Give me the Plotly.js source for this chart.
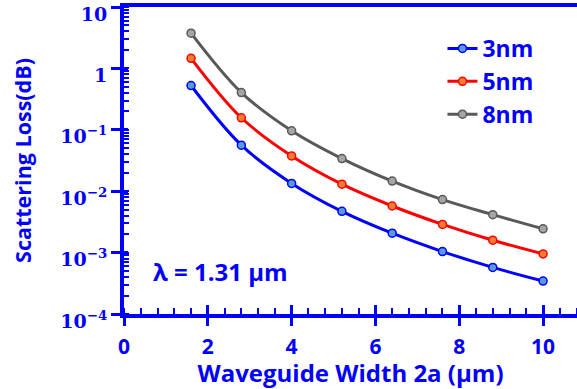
<!DOCTYPE html>
<html>
<head>
<meta charset="utf-8">
<script src="https://cdn.plot.ly/plotly-3.0.1.min.js"></script>
<style>
html,body{margin:0;padding:0;background:#fff;overflow:hidden;}
#chart{width:577px;height:389px;}
</style>
</head>
<body>
<div id="chart"></div>
<script>
// Data
const widths = [1.6, 2.8, 4.0, 5.2, 6.4, 7.6, 8.8, 10.0];
const loss3nm = [0.526, 0.0561, 0.0134, 0.0047, 0.00207, 0.00104, 0.000574, 0.000344];
const loss5nm = [1.46, 0.157, 0.0375, 0.0130, 0.00574, 0.00288, 0.00159, 0.000953];
const loss8nm = [3.75, 0.404, 0.0964, 0.034, 0.0146, 0.0073, 0.00415, 0.00244];
const seriesNames = ['3nm', '5nm', '8nm'];
const yTickVals = [10, 1, 0.1, 0.01, 0.001, 0.0001];
const yTickText = ['10', '1', '10<sup>−1</sup>', '10<sup>−2</sup>', '10<sup>−3</sup>', '10<sup>−4</sup>'];
const xTickVals = [0, 2, 4, 6, 8, 10];
const xTickText = ['0', '2', '4', '6', '8', '10'];

const BLUE = '#0000ff';
const sans = 'Open Sans, Lato, sans-serif';

function mk(name, y, line, fill) {
  return {
    x: widths, y: y, name: name, type: 'scatter', mode: 'lines+markers',
    line: {color: line, width: 3, shape: 'spline', smoothing: 1},
    marker: {size: 8, color: fill, line: {color: line, width: 1.5}}
  };
}

const traces = [
  mk(seriesNames[0], loss3nm, '#0000ff', '#5b9bd5'),
  mk(seriesNames[1], loss5nm, '#ff0000', '#ed7d31'),
  mk(seriesNames[2], loss8nm, '#595959', '#a5a5a5'),
  {x: [], y: [], xaxis: 'x2', yaxis: 'y2', showlegend: false, hoverinfo: 'skip', type: 'scatter'}
];

const xr = [0, 10.81];
const yr = [-4, 1];

const layout = {
  width: 577, height: 389,
  margin: {l: 124, r: 0, t: 7, b: 75},
  paper_bgcolor: '#fff', plot_bgcolor: '#fff',
  showlegend: true,
  legend: {
    x: 0.703, y: 0.935, xanchor: 'left', yanchor: 'top',
    bgcolor: 'rgba(0,0,0,0)',
    font: {family: sans, size: 23, color: BLUE, weight: 'bold'},
    tracegroupgap: 0, itemwidth: 30
  },
  xaxis: {
    range: xr, showgrid: false, zeroline: false,
    showline: true, linecolor: BLUE, linewidth: 4, mirror: true,
    tickvals: xTickVals, ticktext: xTickText,
    ticks: 'outside', ticklen: 8, tickwidth: 3, tickcolor: BLUE,
    ticklabelstandoff: 3,
    minor: {dtick: 0.4, ticks: 'inside', ticklen: 6, tickwidth: 2, tickcolor: BLUE, showgrid: false},
    tickfont: {family: sans, size: 21, color: BLUE, weight: 'bold'},
    title: {text: 'Waveguide Width 2a (µm)', standoff: 3,
      font: {family: sans, size: 24, color: BLUE, weight: 'bold'}}
  },
  xaxis2: {
    overlaying: 'x', anchor: 'y', range: xr, showgrid: false, zeroline: false,
    showline: false, showticklabels: false,
    tickvals: xTickVals, ticks: 'inside', ticklen: 9, tickwidth: 3, tickcolor: BLUE
  },
  yaxis: {
    type: 'log', range: yr, showgrid: false, zeroline: false,
    showline: true, linecolor: BLUE, linewidth: 4, mirror: false,
    tickvals: yTickVals, ticktext: yTickText,
    ticks: 'outside', ticklen: 9, tickwidth: 3, tickcolor: BLUE,
    ticklabeloverflow: 'allow', ticklabelshift: 7,
    minor: {dtick: 'D1', ticks: 'inside', ticklen: 5, tickwidth: 2, tickcolor: BLUE, showgrid: false},
    tickfont: {family: 'DejaVu Serif, serif', size: 19, color: BLUE, weight: 'bold'},
    title: {text: 'Scattering Loss(dB)', standoff: 24,
      font: {family: sans, size: 21.5, color: BLUE, weight: 'bold'}}
  },
  yaxis2: {
    type: 'log', overlaying: 'y', anchor: 'x', range: yr, showgrid: false, zeroline: false,
    showline: false, showticklabels: false, side: 'left',
    tickvals: yTickVals, ticks: 'inside', ticklen: 4, tickwidth: 3, tickcolor: BLUE
  },
  annotations: [{
    text: 'λ = 1.31 µm', xref: 'paper', yref: 'paper', x: 0.213, y: 0.137,
    xanchor: 'center', yanchor: 'middle', showarrow: false,
    font: {family: sans, size: 24, color: BLUE, weight: 'bold'}
  }]
};

Plotly.newPlot('chart', traces, layout, {displayModeBar: false, staticPlot: true});
</script>
</body>
</html>
